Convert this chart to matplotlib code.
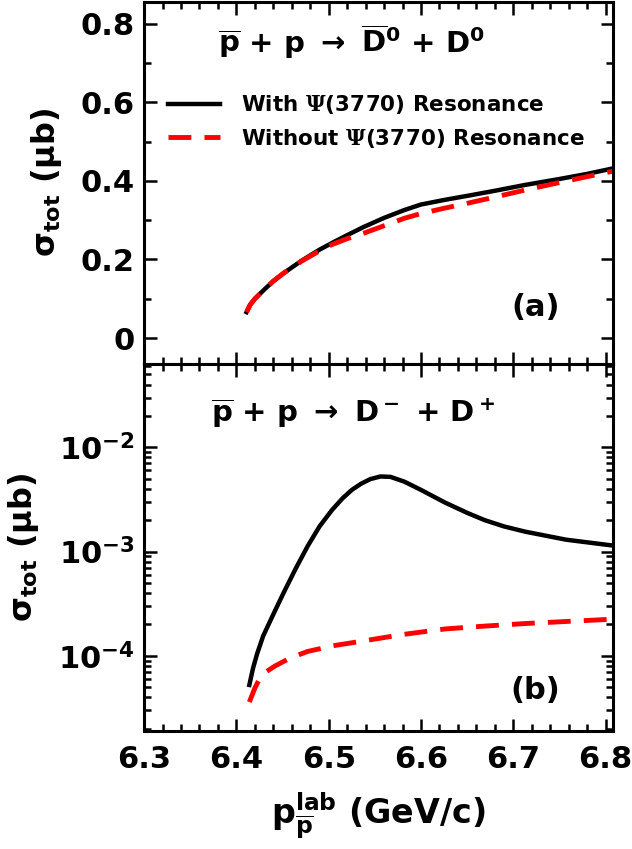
import numpy as np
import matplotlib
matplotlib.use("Agg")
import matplotlib.pyplot as plt
from matplotlib.ticker import MultipleLocator, FixedLocator, FuncFormatter, LogLocator, NullFormatter

plt.rcParams['font.family'] = ['DejaVu Sans']
plt.rcParams['font.weight'] = 'bold'
plt.rcParams['axes.labelweight'] = 'bold'
plt.rcParams['mathtext.fontset'] = 'dejavusans'
plt.rcParams['mathtext.default'] = 'bf'

# panel (a): pbar p -> D0bar D0
p_a = [6.411, 6.415, 6.42, 6.43, 6.44, 6.451, 6.47, 6.49, 6.5035, 6.52, 6.538,
       6.56, 6.582, 6.60, 6.626, 6.65, 6.68, 6.713, 6.75, 6.78, 6.81]
with_a = [0.066, 0.085, 0.100, 0.123, 0.145, 0.165, 0.196, 0.225, 0.242, 0.262, 0.283,
          0.306, 0.326, 0.340, 0.352, 0.362, 0.375, 0.390, 0.405, 0.418, 0.433]
without_a = [0.066, 0.085, 0.100, 0.123, 0.145, 0.165, 0.195, 0.222, 0.238, 0.253, 0.267,
             0.286, 0.305, 0.317, 0.331, 0.343, 0.359, 0.377, 0.396, 0.411, 0.426]

# panel (b): pbar p -> D- D+
p_b = [6.414, 6.418, 6.4225, 6.429, 6.44, 6.451, 6.464, 6.477, 6.49, 6.5035, 6.515,
       6.525, 6.535, 6.545, 6.556, 6.567, 6.582, 6.60, 6.626, 6.65, 6.669, 6.69,
       6.713, 6.757, 6.81]
with_b = [5.25e-5, 7.6e-5, 1.05e-4, 1.55e-4, 2.5e-4, 4.0e-4, 6.8e-4, 1.12e-3, 1.74e-3, 2.5e-3, 3.24e-3,
          3.9e-3, 4.47e-3, 4.95e-3, 5.25e-3, 5.2e-3, 4.68e-3, 3.9e-3, 2.95e-3, 2.35e-3, 2.0e-3, 1.74e-3,
          1.55e-3, 1.3e-3, 1.135e-3]
p_b_red = [6.414, 6.42, 6.425, 6.433, 6.442, 6.458, 6.477, 6.505, 6.538, 6.58, 6.626, 6.67, 6.713, 6.76, 6.81]
without_b = [3.6e-5, 4.9e-5, 6.0e-5, 7.1e-5, 8.0e-5, 9.5e-5, 1.1e-4, 1.25e-4, 1.39e-4, 1.6e-4,
             1.81e-4, 1.93e-4, 2.04e-4, 2.14e-4, 2.25e-4]

labels = ['With $\\mathrm{\\Psi}$(3770) Resonance', 'Without $\\mathrm{\\Psi}$(3770) Resonance']

fig = plt.figure(figsize=(6.32, 8.49), dpi=100)
ax1 = fig.add_axes([0.228, 0.5713, 0.742, 0.4265])
ax2 = fig.add_axes([0.228, 0.139, 0.742, 0.4323], sharex=ax1)

lw_solid = 3.2
lw_dash = 3.5
dash = (4.7, 2.7)

ax1.plot(p_a, with_a, color='black', lw=lw_solid, label=labels[0])
ax1.plot(p_a, without_a, color='red', lw=lw_dash, dashes=dash, label=labels[1])
ax2.plot(p_b, with_b, color='black', lw=lw_solid)
ax2.plot(p_b_red, without_b, color='red', lw=lw_dash, dashes=dash)
ax2.set_yscale('log')

ax1.set_xlim(6.3, 6.808)
ax1.set_ylim(-0.066, 0.856)
ax2.set_ylim(1.9e-5, 6.3e-2)

ax1.xaxis.set_major_locator(MultipleLocator(0.1))
ax1.xaxis.set_minor_locator(MultipleLocator(0.02))
ax1.yaxis.set_major_locator(FixedLocator([0, 0.2, 0.4, 0.6, 0.8]))
ax1.yaxis.set_minor_locator(MultipleLocator(0.1))
ax1.yaxis.set_major_formatter(FuncFormatter(lambda v, pos: '0' if abs(v) < 1e-9 else '%.1f' % v))
ax1.tick_params(axis='x', labelbottom=False)

ax2.yaxis.set_major_locator(FixedLocator([1e-4, 1e-3, 1e-2]))
ax2.yaxis.set_minor_locator(LogLocator(base=10, subs=np.arange(2, 10), numticks=20))
ax2.yaxis.set_minor_formatter(NullFormatter())
ax2.yaxis.set_major_formatter(FuncFormatter(lambda v, pos: '$10^{%d}$' % round(np.log10(v))))
ax2.xaxis.set_major_formatter(FuncFormatter(lambda v, pos: '%.1f' % v))

for ax in (ax1, ax2):
    for s in ax.spines.values():
        s.set_linewidth(2.2)
    ax.tick_params(which='both', direction='in', top=True, right=True, width=1.8, labelsize=22)
    ax.tick_params(which='major', length=9, pad=7)
    ax.tick_params(which='minor', length=5)
    ax.set_ylabel('$\\mathrm{\\sigma}_{tot}$ ($\\mathrm{\\mu}$b)', fontsize=23, labelpad=12)
ax2.tick_params(axis='x', which='major', pad=10)

ax2.set_xlabel('$p_{\\overline{p}}^{lab}$ (GeV/c)', fontsize=24, labelpad=12)

ax1.text(0.443, 0.859, '$\\overline{p}$ + p $\\rightarrow$ $\\overline{D}^0$ + D$^0$',
         transform=ax1.transAxes, ha='center', va='baseline', fontsize=21)
ax2.text(0.445, 0.842, '$\\overline{p}$ + p $\\rightarrow$ D$^-$ + D$^+$',
         transform=ax2.transAxes, ha='center', va='baseline', fontsize=21)
ax1.text(0.835, 0.155, '(a)', transform=ax1.transAxes, ha='center', va='center', fontsize=22)
ax2.text(0.835, 0.11, '(b)', transform=ax2.transAxes, ha='center', va='center', fontsize=22)

leg = ax1.legend(loc='upper left', bbox_to_anchor=(0.051, 0.748), frameon=False,
                 fontsize=15.5, handlelength=2.4, handletextpad=1.0, labelspacing=0.5,
                 borderpad=0, borderaxespad=0)
for t in leg.get_texts():
    t.set_math_fontfamily('dejavuserif')

fig.savefig('out.png', dpi=100)
